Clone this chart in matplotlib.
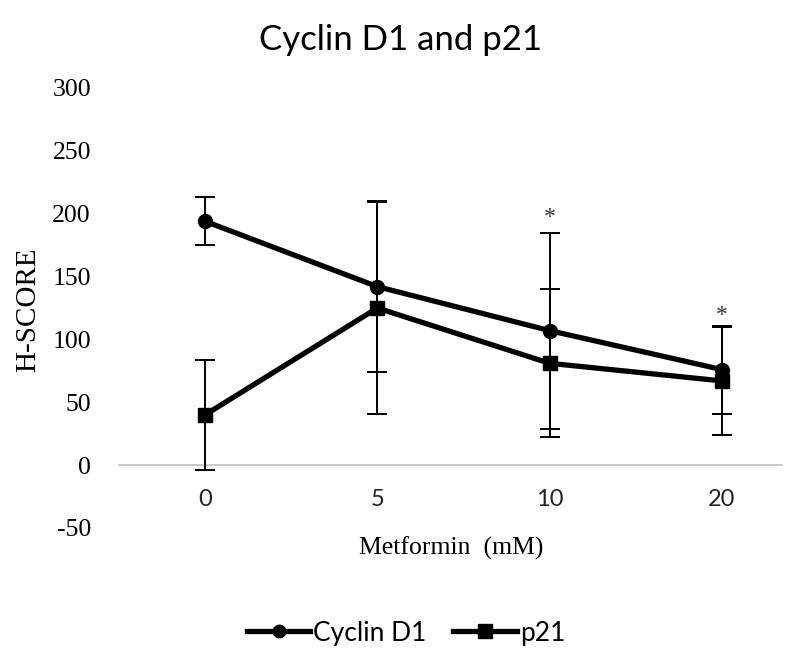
import matplotlib
matplotlib.use("Agg")
import matplotlib.pyplot as plt
from matplotlib.lines import Line2D

categories = ["0", "5", "10", "20"]
cyclin_d1 = [194, 142, 107, 76]
cyclin_d1_err = [19, 68, 78, 35]
p21 = [40, 125, 81, 67]
p21_err = [44, 84, 59, 43]
star_labels = ["", "", "*", "*"]
star_heights = [None, None, 197, 119]
yticks = [-50, 0, 50, 100, 150, 200, 250, 300]

fig = plt.figure(figsize=(8.05, 6.51), dpi=100)
ax = fig.add_axes([118/805, 123/651, 665/805, 440/651])
xs = list(range(len(categories)))

ax.axhline(0, color="#c0c0c0", lw=1.2, zorder=1)

ax.errorbar(xs, cyclin_d1, yerr=cyclin_d1_err, fmt="none", ecolor="black",
            elinewidth=1.4, capsize=7, capthick=1.4, zorder=2)
ax.errorbar(xs, p21, yerr=p21_err, fmt="none", ecolor="black",
            elinewidth=1.4, capsize=7, capthick=1.4, zorder=2)
ax.plot(xs, cyclin_d1, color="black", lw=3.8, marker="o", markersize=10, zorder=3)
ax.plot(xs, p21, color="black", lw=3.8, marker="s", markersize=10, zorder=3)

for x, s, h in zip(xs, star_labels, star_heights):
    if s:
        ax.text(x, h, s, ha="center", va="center", fontsize=17,
                family="Liberation Serif", color="#333333")

ax.set_xlim(-0.505, 3.354)
ax.set_ylim(-50, 300)
ax.set_yticks(yticks)
ax.set_yticklabels([str(v) for v in yticks], family="Liberation Serif", fontsize=18.5)
ax.tick_params(axis="y", length=0, pad=19.5)
ax.set_xticks([])
for x, c in zip(xs, categories):
    ax.text(x, -27, c, ha="center", va="center", fontsize=17, family="Lato",
            color="#222222")
for sp in ax.spines.values():
    sp.set_visible(False)

fig.text(451/805, 1 - 548/651, "Metformin  (mM)", ha="center", va="center",
         family="Liberation Serif", fontsize=18.5)
fig.text(28/805, 1 - 310/651, "H-SCORE", ha="center", va="center", rotation=90,
         family="Liberation Serif", fontsize=21)
fig.text(401/805, 1 - 40/651, "Cyclin D1 and p21", ha="center", va="center",
         family="Lato", fontsize=25)

handles = [Line2D([], [], color="black", lw=3.8, marker="o", markersize=9),
           Line2D([], [], color="black", lw=3.8, marker="s", markersize=10)]
leg = fig.legend(handles, ["Cyclin D1", "p21"], loc="center",
                 bbox_to_anchor=(406/805, 1 - 633/651), ncol=2, frameon=False,
                 prop={"family": "Lato", "size": 19}, handlelength=2.4,
                 handletextpad=0.12, columnspacing=1.0)

fig.savefig("out.png", dpi=100)
